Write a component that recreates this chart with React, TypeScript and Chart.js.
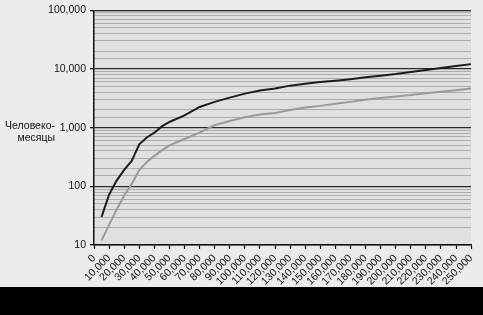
import React, { useEffect, useRef } from "react";
import { Chart, registerables } from "chart.js";

Chart.register(...registerables);

const sizes = [5000, 10000, 15000, 20000, 25000, 30000, 35000, 40000, 45000, 50000, 60000, 70000, 80000, 90000, 100000, 110000, 120000, 130000, 140000, 150000, 160000, 170000, 180000, 190000, 200000, 210000, 220000, 230000, 240000, 250000];
const effortUpper = [30, 72, 125, 190, 270, 520, 680, 820, 1050, 1250, 1620, 2250, 2750, 3250, 3800, 4300, 4650, 5200, 5600, 6000, 6300, 6700, 7200, 7700, 8200, 8900, 9600, 10400, 11200, 12100];
const effortLower = [12, 22, 40, 70, 110, 190, 260, 330, 410, 500, 640, 820, 1100, 1300, 1500, 1680, 1780, 2000, 2200, 2350, 2550, 2750, 3000, 3200, 3400, 3600, 3850, 4100, 4350, 4650];
const yTitleLines = ["Человеко-", "месяцы"];
const xMin = 0;
const xMax = 250000;
const xStep = 10000;
const yMin = 10;
const yMax = 100000;

const isDecade = (v: number) => {
  const l = Math.log10(v);
  return Math.abs(l - Math.round(l)) < 1e-9;
};

const bgPlugin = {
  id: "bgPlugin",
  beforeDraw(chart: any) {
    const { ctx, chartArea } = chart;
    ctx.save();
    ctx.fillStyle = "#ececec";
    ctx.fillRect(0, 0, chart.width, chart.height);
    ctx.fillStyle = "#e0e0e0";
    ctx.fillRect(chartArea.left, chartArea.top, chartArea.right - chartArea.left, chartArea.bottom - chartArea.top);
    ctx.restore();
  },
};

export default function App() {
  const ref = useRef<HTMLCanvasElement | null>(null);

  useEffect(() => {
    document.body.style.margin = "0";
    const canvas = ref.current;
    if (!canvas) return;
    const font = { family: "'Liberation Sans', Arial, sans-serif", size: 10.5 };
    const chart = new Chart(canvas, {
      type: "line",
      data: {
        datasets: [
          {
            data: sizes.map((s, i) => ({ x: s, y: effortUpper[i] })),
            borderColor: "#1c1c1c",
            borderWidth: 2,
            pointRadius: 0,
            tension: 0,
          },
          {
            data: sizes.map((s, i) => ({ x: s, y: effortLower[i] })),
            borderColor: "#9a9a9a",
            borderWidth: 2,
            pointRadius: 0,
            tension: 0,
          },
        ],
      },
      options: {
        animation: false,
        responsive: false,
        maintainAspectRatio: false,
        layout: { padding: { top: 4, right: 6, left: 0, bottom: 0 } },
        plugins: { legend: { display: false }, tooltip: { enabled: false } },
        scales: {
          x: {
            type: "linear",
            min: xMin,
            max: xMax,
            border: { color: "#111", width: 1.5 },
            grid: { drawOnChartArea: false, drawTicks: true, tickLength: 4, tickColor: "#111", tickWidth: 1.2 },
            ticks: {
              stepSize: xStep,
              autoSkip: false,
              minRotation: 45,
              maxRotation: 45,
              padding: 3,
              color: "#111",
              font,
              callback: (v: any) => Number(v).toLocaleString("en-US"),
            },
            afterFit: (scale: any) => {
              scale.height = 42;
            },
          },
          y: {
            type: "logarithmic",
            min: yMin,
            max: yMax,
            border: { color: "#111", width: 1.5 },
            grid: {
              color: (c: any) => (c.tick && isDecade(c.tick.value) ? "#2a2a2a" : "#a0a0a0"),
              lineWidth: (c: any) => (c.tick && isDecade(c.tick.value) ? 1.3 : 0.8),
              tickLength: 4,
              tickColor: (c: any) => (c.tick && isDecade(c.tick.value) ? "#111" : "rgba(0,0,0,0)"),
            },
            ticks: {
              autoSkip: false,
              padding: 4,
              color: "#111",
              font,
              callback: (v: any) => (isDecade(Number(v)) ? Number(v).toLocaleString("en-US") : ""),
            },
            afterFit: (scale: any) => {
              scale.width = 94;
            },
          },
        },
      },
      plugins: [bgPlugin],
    });
    return () => chart.destroy();
  }, []);

  return (
    <div style={{ position: "relative", width: 483, height: 315, background: "#000" }}>
      <canvas ref={ref} width={483} height={287} style={{ display: "block", width: 483, height: 287 }} />
      <div
        style={{
          position: "absolute",
          left: 0,
          top: 119,
          width: 55,
          textAlign: "right",
          fontFamily: "'Liberation Sans', Arial, sans-serif",
          fontSize: 10.5,
          lineHeight: "12px",
          color: "#111",
          whiteSpace: "nowrap",
        }}
      >
        {yTitleLines.map((t, i) => (
          <div key={i}>{t}</div>
        ))}
      </div>
    </div>
  );
}
